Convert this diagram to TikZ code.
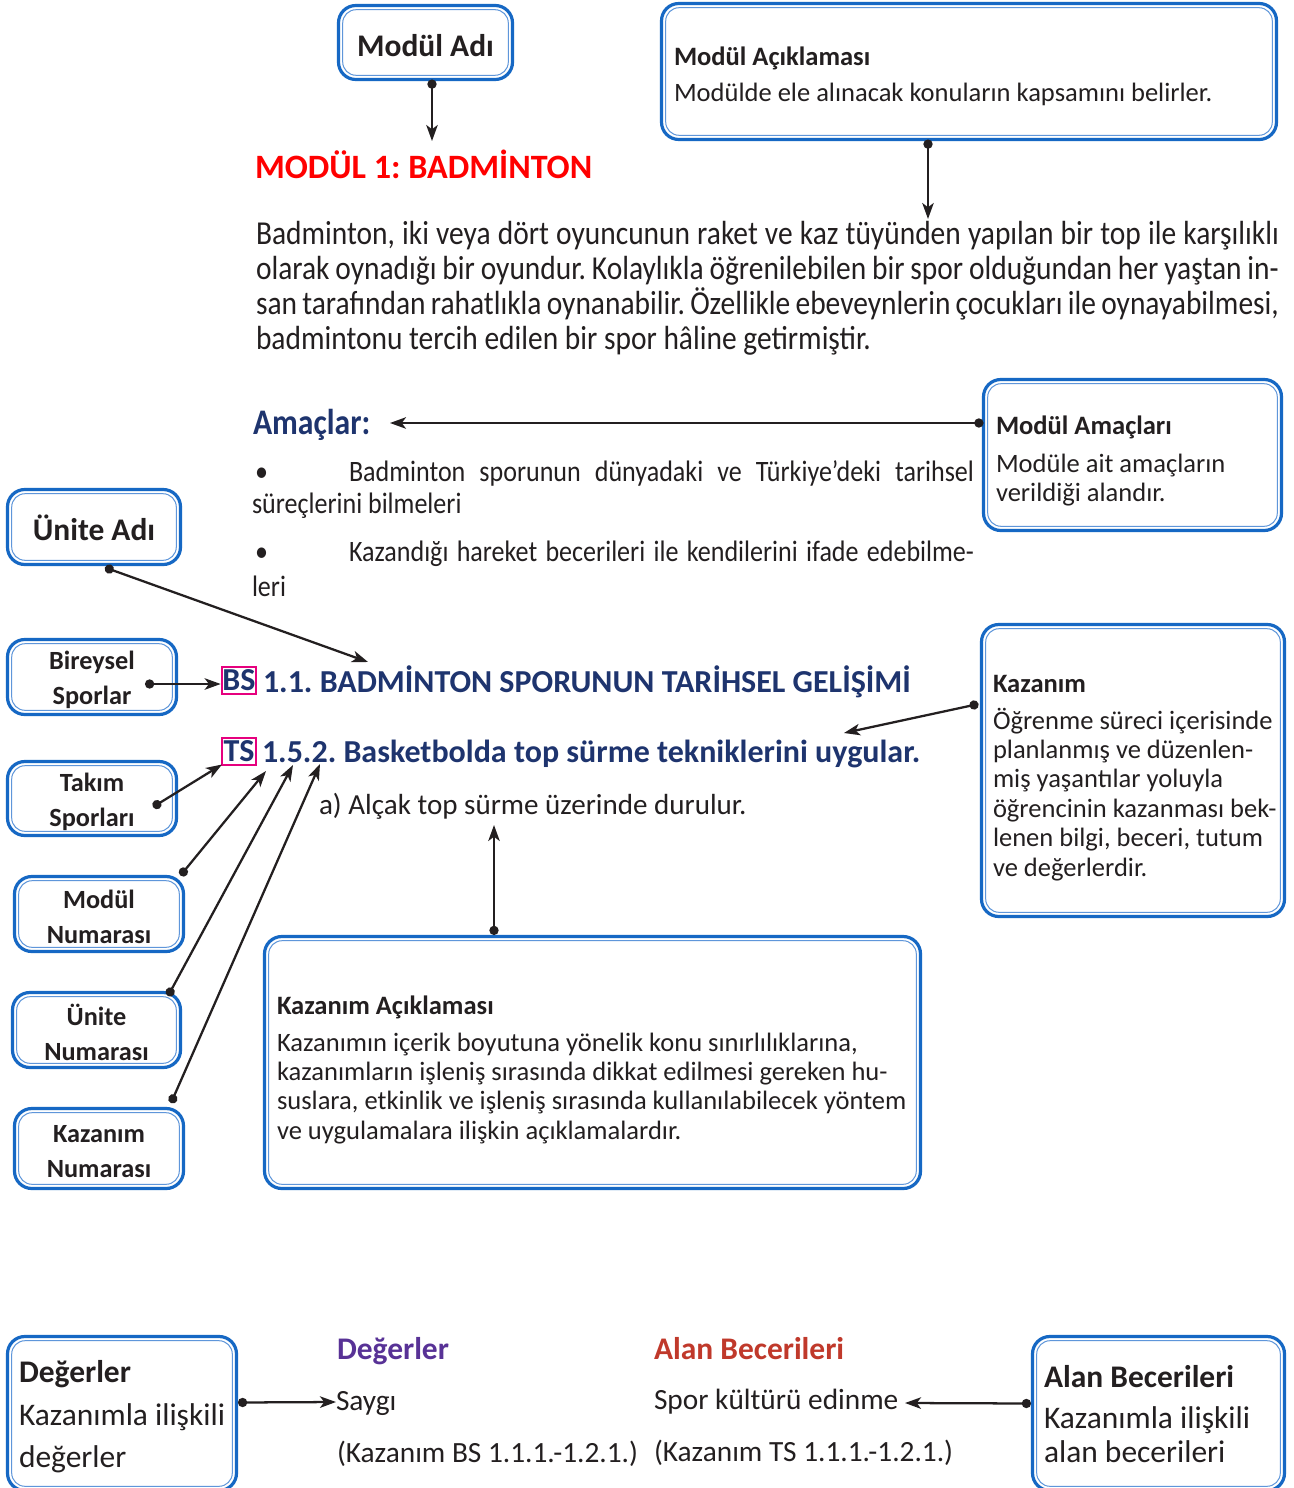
\documentclass[tikz,border=0pt]{standalone}
\usepackage{fontspec}
\setmainfont{Carlito}
\newfontfamily\condfont[FakeStretch=0.88]{Carlito}
\usetikzlibrary{arrows.meta}
\frenchspacing

\newlength\pxl
\setlength\pxl{0.75pt}

\definecolor{boxblue}{RGB}{22,104,196}
\definecolor{boxinner}{RGB}{95,150,218}
\definecolor{headnavy}{RGB}{30,52,110}
\definecolor{modred}{RGB}{255,0,0}
\definecolor{codepink}{RGB}{230,0,126}
\definecolor{valpurple}{RGB}{88,50,150}
\definecolor{skillred}{RGB}{192,57,43}
\definecolor{ink}{RGB}{35,31,32}

\newcommand\bodyfont{\fontsize{19.9pt}{22pt}\selectfont}
\newcommand\labfont{\fontsize{23.6pt}{28pt}\selectfont\bfseries}
\newcommand\smalllabfont{\fontsize{19.7pt}{26.25pt}\selectfont\bfseries}
\newcommand\parafont{\condfont\fontsize{25.1pt}{26.25pt}\selectfont}
\newcommand\bulletfont{\condfont\fontsize{22.2pt}{24pt}\selectfont}
\newcommand\aimsfont{\condfont\bfseries\fontsize{27pt}{30pt}\selectfont}
\newcommand\redfont{\fontsize{25.6pt}{30pt}\selectfont\bfseries}
\newcommand\headfont{\fontsize{24pt}{28pt}\selectfont\bfseries}
\newcommand\plainfont{\fontsize{21.8pt}{26pt}\selectfont}
\newcommand\bottomfont{\fontsize{22pt}{26pt}\selectfont}
\newcommand\bottomhead{\fontsize{23.6pt}{28pt}\selectfont\bfseries}
\newcommand\bigboxfont{\fontsize{23.6pt}{28pt}\selectfont}

\begin{document}
\begin{tikzpicture}[x=0.75pt,y=-0.75pt,
  box/.style={draw=boxblue, line width=2.4pt, rounded corners=13pt, fill=white,
    inner sep=0pt, outer sep=0pt},
  innerline/.style={draw=boxinner, line width=0.75pt, rounded corners=10pt},
  labtxt/.style={inner sep=0pt, outer sep=0pt, text=ink, font=\labfont, align=center},
  smalltxt/.style={inner sep=0pt, outer sep=0pt, text=ink, font=\smalllabfont, align=center},
  txt/.style={inner sep=0pt, outer sep=0pt, anchor=base west, text=ink},
  conn/.style={draw=ink, line width=1.7pt,
    {Circle[length=6.9pt]}-{Stealth[length=12pt,width=8.6pt,inset=3.2pt]}},
  code/.style={draw=codepink, line width=1.5pt, inner sep=0pt, outer sep=0pt,
    minimum width=25.5pt, minimum height=20.25pt, text=headnavy, font=\headfont}
]
\fill[white] (0,0) rectangle (1294,1488);
\useasboundingbox (0,0) rectangle (1294,1488);

% ---------- boxes ----------
\node[box, minimum width=174\pxl, minimum height=74\pxl] (modname) at (425.5,42.5) {};
\node[box, minimum width=615\pxl, minimum height=136\pxl] (moddesc) at (969,71.5) {};
\node[box, minimum width=298\pxl, minimum height=151\pxl] (modaims) at (1132.5,455) {};
\node[box, minimum width=173\pxl, minimum height=75\pxl] (unitname) at (94,527) {};
\node[box, minimum width=169\pxl, minimum height=75\pxl] (indiv) at (92,677) {};
\node[box, minimum width=169\pxl, minimum height=74\pxl] (team) at (92,798.5) {};
\node[box, minimum width=169\pxl, minimum height=75\pxl] (modnum) at (99,914) {};
\node[box, minimum width=168\pxl, minimum height=75\pxl] (unitnum) at (96.5,1030) {};
\node[box, minimum width=169\pxl, minimum height=80\pxl] (outnum) at (99,1148.5) {};
\node[box, minimum width=656\pxl, minimum height=252\pxl] (outdesc) at (592.5,1062.5) {};
\node[box, minimum width=303\pxl, minimum height=292\pxl] (outcome) at (1133,770.5) {};
\node[box, minimum width=229\pxl, minimum height=154\pxl] (values) at (122,1413.5) {};
\node[box, minimum width=252\pxl, minimum height=154\pxl] (skills) at (1158.5,1413.5) {};

% thin inner outline of every box
\foreach \b in {modname,moddesc,modaims,unitname,indiv,team,modnum,unitnum,outnum,outdesc,outcome,values,skills}
  \draw[innerline] ([shift={(4.2,4.2)}]\b.north west) rectangle ([shift={(-4.2,-4.2)}]\b.south east);

% ---------- centred box labels (shift is in page units, pointing down) ----------
\node[labtxt] (modnamet) at ([shift={(0,3)}]modname.center) {Modül Adı};
\node[labtxt] (unitnamet) at ([shift={(0,1)}]unitname.center) {Ünite Adı};
\node[smalltxt] (indivt) at ([shift={(0,3)}]indiv.center) {Bireysel\\Sporlar};
\node[smalltxt] (teamt) at ([shift={(0,3)}]team.center) {Takım\\Sporları};
\node[smalltxt] (modnumt) at ([shift={(0,3)}]modnum.center) {Modül\\Numarası};
\node[smalltxt] (unitnumt) at ([shift={(0,2)}]unitnum.center) {Ünite\\Numarası};
\node[smalltxt] (outnumt) at ([shift={(0,3)}]outnum.center) {Kazanım\\Numarası};

% ---------- box texts ----------
\node[txt, font=\bodyfont\bfseries] (moddesct) at (674,66) {Modül Açıklaması};
\node[txt, font=\bodyfont] (moddescb) at (674,102) {Modülde ele alınacak konuların kapsamını belirler.};

\node[txt, font=\bodyfont\bfseries] (modaimst) at (996,434) {Modül Amaçları};
\foreach \t [count=\i] in {Modüle ait amaçların, verildiği alandır.}
  \node[txt, font=\bodyfont] (modaims\i) at (996,472+29.4*\i-29.4) {\t};

\node[txt, font=\bodyfont\bfseries] (outcomet) at (993,692) {Kazanım};
\foreach \t [count=\i] in {Öğrenme süreci içerisinde, planlanmış ve düzenlen-, miş yaşantılar yoluyla,
    öğrencinin kazanması bek-, {lenen bilgi, beceri, tutum}, ve değerlerdir.}
  \node[txt, font=\bodyfont] (outcome\i) at (993,729+29.4*\i-29.4) {\t};

\node[txt, font=\bodyfont\bfseries] (outdesct) at (277,1014) {Kazanım Açıklaması};
\foreach \t [count=\i] in {{Kazanımın içerik boyutuna yönelik konu sınırlılıklarına,},
    kazanımların işleniş sırasında dikkat edilmesi gereken hu-,
    {suslara, etkinlik ve işleniş sırasında kullanılabilecek yöntem},
    ve uygulamalara ilişkin açıklamalardır.}
  \node[txt, font=\bodyfont] (outdesc\i) at (277,1051+29.4*\i-29.4) {\t};

\node[txt, font=\bigboxfont\bfseries] (valuest) at (19,1382) {Değerler};
\node[txt, font=\bigboxfont] (values1) at (19,1425) {Kazanımla ilişkili};
\node[txt, font=\bigboxfont] (values2) at (19,1467) {değerler};

\node[txt, font=\bigboxfont\bfseries] (skillst) at (1044,1387) {Alan Becerileri};
\node[txt, font=\bigboxfont] (skills1) at (1044,1428) {Kazanımla ilişkili};
\node[txt, font=\bigboxfont] (skills2) at (1044,1462) {alan becerileri};

% ---------- page texts ----------
\node[txt, font=\redfont, text=modred] (modtitle) at (255,178) {MODÜL 1: BADMİNTON};

\node[txt, font=\parafont] (para1) at (256,244)
  {\makebox[1023\pxl][s]{Badminton, iki veya dört oyuncunun raket ve kaz tüyünden yapılan bir top ile karşılıklı}};
\node[txt, font=\parafont] (para2) at (256,279)
  {\makebox[1023\pxl][s]{olarak oynadığı bir oyundur. Kolaylıkla öğrenilebilen bir spor olduğundan her yaştan in-}};
\node[txt, font=\parafont] (para3) at (256,314)
  {\makebox[1023\pxl][s]{san tarafından rahatlıkla oynanabilir. Özellikle ebeveynlerin çocukları ile oynayabilmesi,}};
\node[txt, font=\parafont] (para4) at (256,349) {badmintonu tercih edilen bir spor hâline getirmiştir.};

\node[txt, font=\aimsfont, text=headnavy] (aims) at (253,434) {Amaçlar:};
\node[txt, font=\bulletfont] (bul1) at (255,481) {•};
\node[txt, font=\bulletfont] (bul1a) at (349,481)
  {\makebox[625\pxl][s]{Badminton sporunun dünyadaki ve Türkiye’deki tarihsel}};
\node[txt, font=\bulletfont] (bul1b) at (252,513) {süreçlerini bilmeleri};
\node[txt, font=\bulletfont] (bul2) at (255,561) {•};
\node[txt, font=\bulletfont] (bul2a) at (349,561)
  {\makebox[625\pxl][s]{Kazandığı hareket becerileri ile kendilerini ifade edebilme-}};
\node[txt, font=\bulletfont] (bul2b) at (252,596) {leri};

\node[code] (bsbox) at (239,680.5) {BS};
\node[txt, font=\headfont, text=headnavy] (unitline) at (263,692) {1.1. BADMİNTON SPORUNUN TARİHSEL GELİŞİMİ};
\node[code] (tsbox) at (239,751) {TS};
\node[txt, font=\headfont, text=headnavy] (outline) at (262,762) {1.5.2. Basketbolda top sürme tekniklerini uygular.};
\node[txt, font=\plainfont] (subitem) at (319,814) {a) Alçak top sürme üzerinde durulur.};

\node[txt, font=\bottomhead, text=valpurple] (valhead) at (337,1359) {Değerler};
\node[txt, font=\bottomfont] (valitem) at (336,1410) {Saygı};
\node[txt, font=\bottomfont] (valref) at (337,1462) {(Kazanım BS 1.1.1.-1.2.1.)};
\node[txt, font=\bottomhead, text=skillred] (skillhead) at (654,1359) {Alan Becerileri};
\node[txt, font=\bottomfont] (skillitem) at (654,1409) {Spor kültürü edinme};
\node[txt, font=\bottomfont] (skillref) at (654,1461) {(Kazanım TS 1.1.1.-1.2.1.)};

% ---------- arrow tips ----------
\coordinate (tA) at (432,141);
\coordinate (tB) at (928,219);
\coordinate (tC) at (390,423);
\coordinate (tD) at (368,662);
\coordinate (tG) at (266,771);
\coordinate (tH) at (293,765);
\coordinate (tI) at (320,764);
\coordinate (tJ) at (844,733);
\coordinate (tK) at (494,825);
\coordinate (tL) at (336,1402);
\coordinate (tM) at (905,1403);

% ---------- connectors ----------
\draw[conn] (modname.south -| tA) -- (tA);
\draw[conn] (moddesc.south -| tB) -- (tB);
\draw[conn] (modaims.west |- tC) -- (tC);
\draw[conn] ([shift={(11,3)}]unitname.south) -- (tD);
\draw[conn] ([shift={(53,7)}]indiv.center) coordinate (dE) -- ([xshift=-1]bsbox.west |- dE);
\draw[conn] ([shift={(61,8.5)}]team.center) -- (tsbox.south west);
\draw[conn] ([shift={(-3,-1)}]modnum.north east) -- (tG);
\draw[conn] ([shift={(71.5,3.5)}]unitnum.north) -- (tH);
\draw[conn] ([shift={(72,-5.5)}]outnum.north) -- (tI);
\draw[conn] ([shift={(-3,-66.5)}]outcome.west) -- (tJ);
\draw[conn] ([shift={(-98.5,-1.5)}]outdesc.north) -- (tK);
\draw[conn] ([shift={(1.5,-11)}]values.east) -- (tL);
\draw[conn] ([shift={(-1.5,-10)}]skills.west) -- (tM);
\end{tikzpicture}
\end{document}
